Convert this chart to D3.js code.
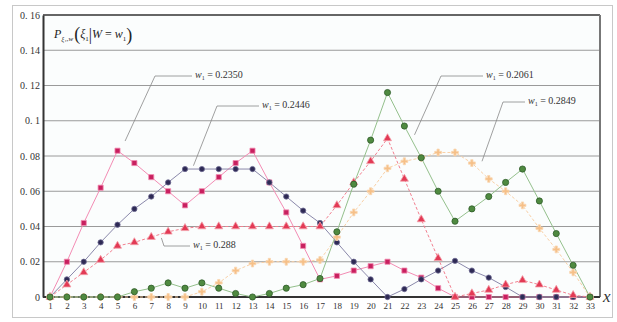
<!DOCTYPE html>
<html>
<head>
<meta charset="utf-8">
<script src="https://cdn.jsdelivr.net/npm/d3@7"></script>
<style>
  html, body { margin: 0; padding: 0; background: #ffffff; }
  svg { display: block; font-family: "Liberation Serif", "DejaVu Serif", serif; }
</style>
</head>
<body>
<svg id="chart" width="617" height="322"></svg>
<script>
// x categories (ξ values) and y tick values
const categories = [1,2,3,4,5,6,7,8,9,10,11,12,13,14,15,16,17,18,19,20,21,22,23,24,25,26,27,28,29,30,31,32,33];
const yTicks = [0, 0.02, 0.04, 0.06, 0.08, 0.1, 0.12, 0.14, 0.16];

// conditional probabilities for each w1
const w2350 = [0, 0.020, 0.042, 0.062, 0.083, 0.076, 0.068, 0.060, 0.052, 0.060, 0.068, 0.076, 0.083, 0.065, 0.048, 0.029, 0.010, 0.012, 0.015, 0.0175, 0.020, 0.015, 0.011, 0.005, 0, 0, 0, 0, 0, 0, 0, 0, 0];
const w2446 = [0, 0.010, 0.020, 0.031, 0.041, 0.050, 0.057, 0.065, 0.0726, 0.0726, 0.0726, 0.0726, 0.0726, 0.065, 0.057, 0.049, 0.042, 0.031, 0.020, 0.010, 0, 0.0045, 0.010, 0.015, 0.0205, 0.015, 0.011, 0.0057, 0, 0, 0, 0, 0];
const w2061 = [0, 0, 0, 0, 0, 0.003, 0.005, 0.008, 0.005, 0.008, 0.005, 0.002, 0, 0.002, 0.005, 0.007, 0.0105, 0.037, 0.064, 0.089, 0.116, 0.097, 0.079, 0.060, 0.043, 0.050, 0.057, 0.065, 0.0726, 0.0545, 0.036, 0.018, 0];
const w2880 = [0, 0.007, 0.014, 0.021, 0.029, 0.031, 0.034, 0.037, 0.039, 0.040, 0.040, 0.040, 0.040, 0.040, 0.040, 0.040, 0.040, 0.052, 0.065, 0.077, 0.090, 0.067, 0.044, 0.022, 0, 0.002, 0.004, 0.007, 0.0095, 0.007, 0.004, 0.001, 0];
const w2849 = [0, 0, 0, 0, 0, 0, 0, 0, 0, 0.003, 0.008, 0.015, 0.019, 0.020, 0.020, 0.020, 0.021, 0.034, 0.048, 0.060, 0.073, 0.077, 0.079, 0.082, 0.082, 0.076, 0.067, 0.060, 0.052, 0.039, 0.027, 0.014, 0];

const seriesLabels = ["0.2350", "0.2446", "0.2061", "0.288", "0.2849"];

const svg = d3.select("#chart");
const plotL = 43, plotR = 600, plotT = 15, plotB = 297;

const x = d3.scaleLinear().domain([1, 33]).range([50, 590]);
const y = d3.scaleLinear().domain([0, 0.16]).range([plotB, plotT]);

// outer frame
svg.append("rect").attr("x", 12.5).attr("y", 5.5).attr("width", 600).attr("height", 312)
  .attr("fill", "none").attr("stroke", "#c8c8c8").attr("stroke-width", 1);

// plot background
svg.append("rect").attr("x", plotL).attr("y", plotT).attr("width", plotR - plotL).attr("height", plotB - plotT)
  .attr("fill", "#fbfdfd");

// horizontal grid
svg.append("g").selectAll("line").data(yTicks.filter(d => d > 0 && d < 0.16)).join("line")
  .attr("x1", plotL).attr("x2", plotR)
  .attr("y1", d => y(d)).attr("y2", d => y(d))
  .attr("stroke", "#9a9a9a").attr("stroke-width", 1);

// borders
svg.append("line").attr("x1", plotL).attr("x2", plotR).attr("y1", y(0.16)).attr("y2", y(0.16))
  .attr("stroke", "#666").attr("stroke-width", 2);
svg.append("line").attr("x1", plotR).attr("x2", plotR).attr("y1", plotT).attr("y2", plotB)
  .attr("stroke", "#777").attr("stroke-width", 2);

// y axis
const yAxis = d3.axisLeft(y).tickValues(yTicks).tickSize(0).tickPadding(3)
  .tickFormat(d => d === 0 ? "0" : d3.format("~g")(d).replace(".", ". "));
const gy = svg.append("g").attr("transform", `translate(${plotL},0)`).call(yAxis);
gy.select(".domain").attr("stroke", "#333").attr("stroke-width", 2);
gy.selectAll("text").attr("font-size", 10).attr("fill", "#333")
  .attr("font-family", "Liberation Serif, serif").style("white-space", "pre");

// x axis
const xAxis = d3.axisBottom(x).tickValues(categories).tickSize(0).tickPadding(6)
  .tickFormat(d3.format("d"));
const gx = svg.append("g").attr("transform", `translate(0,${plotB})`).call(xAxis);
gx.select(".domain").attr("d", `M${plotL},0H${plotR}`).attr("stroke", "#333").attr("stroke-width", 2);
gx.selectAll("text").attr("font-size", 9).attr("fill", "#333")
  .attr("font-family", "Liberation Serif, serif");

// axis variable
svg.append("text").attr("x", 603).attr("y", 302).attr("font-size", 17)
  .attr("font-style", "italic").attr("fill", "#333").text("x");

// title formula
const t = svg.append("text").attr("x", 54).attr("y", 38).attr("fill", "#222").attr("font-size", 12);
t.append("tspan").attr("font-style", "italic").text("P");
t.append("tspan").attr("font-size", 7).attr("dy", 3).attr("font-style", "italic").text("ξ₁,w");
t.append("tspan").attr("font-size", 18).attr("dy", -1).attr("dx", 1).text("(");
t.append("tspan").attr("font-size", 12).attr("dy", -2).attr("font-style", "italic").text("ξ");
t.append("tspan").attr("font-size", 7).attr("dy", 3).text("1");
t.append("tspan").attr("font-size", 16).attr("dy", -1).text("|");
t.append("tspan").attr("font-size", 12).attr("dy", -2).attr("font-style", "italic").text("W");
t.append("tspan").attr("font-size", 12).text(" = ");
t.append("tspan").attr("font-size", 12).attr("font-style", "italic").text("w");
t.append("tspan").attr("font-size", 7).attr("dy", 3).text("1");
t.append("tspan").attr("font-size", 18).attr("dy", 0).text(")");

// series definitions
const series = [
  { values: w2350, line: "#f38cb4", dash: null, fill: "#c8205f", stroke: "#f28ab0", symbol: d3.symbolSquare, size: 26 },
  { values: w2446, line: "#8a88aa", dash: null, fill: "#2e2a55", stroke: "#6c6890", symbol: d3.symbolCircle, size: 22 },
  { values: w2880, line: "#f28090", dash: "3,2", fill: "#e23a55", stroke: "#f4a0aa", symbol: d3.symbolTriangle, size: 28 },
  { values: w2849, line: "#f9d0a6", dash: "3,2", fill: "#f6c088", stroke: "#f9d7b3", symbol: d3.symbolCross, size: 26 },
  { values: w2061, line: "#94c08c", dash: null, fill: "#4f8a40", stroke: "#2f5c29", symbol: d3.symbolCircle, size: 30 }
];

const lineGen = d3.line().x((d, i) => x(categories[i])).y(d => y(d));

series.forEach(s => {
  svg.append("path").attr("d", lineGen(s.values)).attr("fill", "none")
    .attr("stroke", s.line).attr("stroke-width", 1)
    .attr("stroke-dasharray", s.dash);
});
series.forEach(s => {
  svg.append("g").selectAll("path").data(s.values).join("path")
    .attr("d", d3.symbol().type(s.symbol).size(s.size))
    .attr("transform", (d, i) => `translate(${x(categories[i])},${y(d)})`)
    .attr("fill", s.fill).attr("stroke", s.stroke).attr("stroke-width", 0.8);
});

// callouts: leader from a point on the series to an elbow, then a short run to the label
const callouts = [
  { label: seriesLabels[0], ax: 5.45, av: 0.0885, ex: 155, ey: 76, tx: 195 },
  { label: seriesLabels[1], ax: 9.5, av: 0.0745, ex: 217, ey: 106, tx: 262 },
  { label: seriesLabels[2], ax: 22.6, av: 0.092, ex: 441, ey: 76, tx: 486 },
  { label: seriesLabels[4], ax: 26.6, av: 0.077, ex: 503, ey: 102, tx: 528 },
  { label: seriesLabels[3], ax: 7.6, av: 0.0335, ex: 164, ey: 246, tx: 193 }
];
callouts.forEach(c => {
  svg.append("path")
    .attr("d", `M${x(c.ax)},${y(c.av)}L${c.ex},${c.ey}H${c.tx - 3}`)
    .attr("fill", "none").attr("stroke", "#888").attr("stroke-width", 0.8);
  const tt = svg.append("text").attr("x", c.tx).attr("y", c.ey + 2).attr("font-size", 10).attr("fill", "#333");
  tt.append("tspan").attr("font-style", "italic").text("w");
  tt.append("tspan").attr("font-size", 6).attr("dy", 2).text("1");
  tt.append("tspan").attr("dy", -2).text(" = " + c.label);
});
</script>
</body>
</html>
